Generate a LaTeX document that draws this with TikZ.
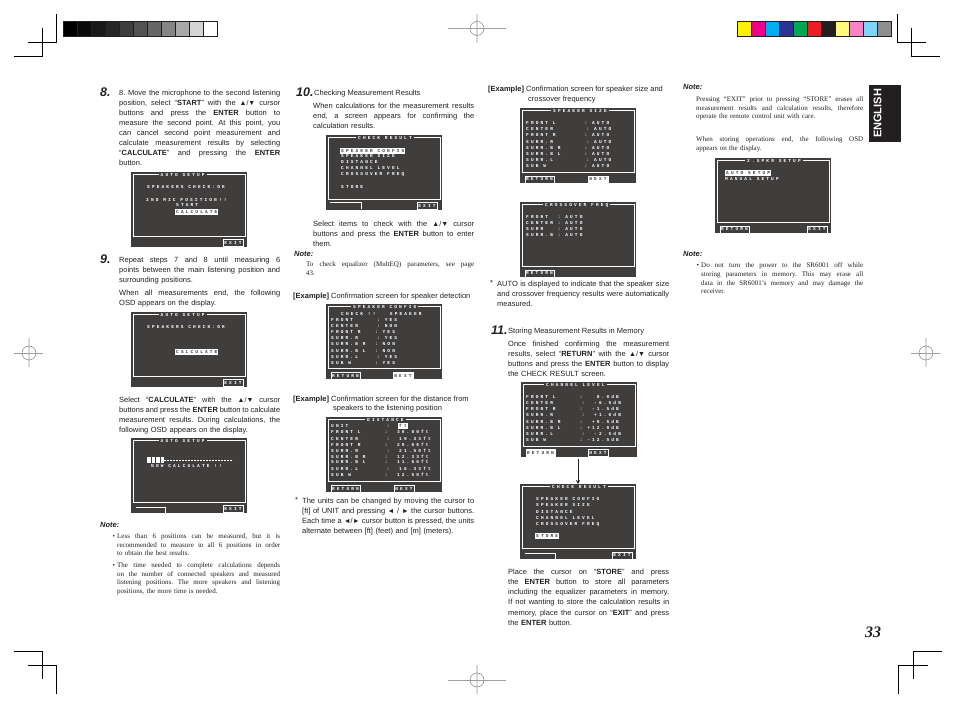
\documentclass[tikz,border=0pt]{standalone}
\usepackage{xcolor}
\usepackage{fontspec}
\usepackage{tikz}
\usetikzlibrary{arrows.meta, positioning}
\setmainfont{Liberation Sans}
\newfontfamily\notefont{Liberation Serif}
\newfontfamily\osdfont[LetterSpace=47]{Liberation Mono}
\definecolor{osdgray}{RGB}{64,61,61}
\definecolor{inkblack}{RGB}{35,31,32}
\definecolor{baryellow}{RGB}{255,242,0}
\definecolor{barmagenta}{RGB}{236,0,140}
\definecolor{barcyan}{RGB}{0,174,239}
\definecolor{barblue}{RGB}{46,49,146}
\definecolor{bargreen}{RGB}{0,166,81}
\definecolor{barred}{RGB}{237,28,36}
\definecolor{barpaleyellow}{RGB}{255,249,125}
\definecolor{barpink}{RGB}{247,132,197}
\definecolor{barsky}{RGB}{125,214,249}
\definecolor{bargray}{RGB}{143,141,142}
\newlength{\jlw}
\newcommand{\jl}[1]{\leavevmode\hbox to \jlw{\spaceskip=0pt\xspaceskip=0pt\relax #1}}
\newcommand{\updn}{{\fontsize{7}{7}\selectfont ▲/▼}}
\newcommand{\lfrt}{{\fontsize{7}{7}\selectfont ◄}}
\newcommand{\rtrt}{{\fontsize{7}{7}\selectfont ►}}
% screen: name, x, y, title, title x
\newcommand{\osdscreen}[5]{
    \node[osdbox] (#1) at (#2,#3) {};
    \draw[osdframe] ([xshift=2pt,yshift=-3pt]#1.north west) rectangle ([xshift=-2pt,yshift=-65pt]#1.north east);
    \node[osdtitle] (#1title) at (#5,#3+3) {#4};
}
\frenchspacing

\begin{document}
\begin{tikzpicture}[
    x=1pt, y=-1pt,
    osdbox/.style={anchor=north west, fill=osdgray, minimum width=116pt, minimum height=75pt, inner sep=0pt, outer sep=0pt},
    osdframe/.style={draw=white, line width=1pt},
    osdtext/.style={anchor=west, inner sep=0pt, text=white, text height=3pt, text depth=0pt, font=\osdfont\bfseries\fontsize{4.5}{5}\selectfont},
    osdtitle/.style={osdtext, fill=osdgray, inner xsep=2pt, inner ysep=1pt},
    osdsel/.style={osdtext, fill=white, text=osdgray, inner xsep=1pt, inner ysep=1.4pt},
    osdbtn/.style={osdtext, anchor=center, draw=white, line width=0.5pt, minimum width=20pt, minimum height=7pt},
    osdbtnsel/.style={osdbtn, fill=white, text=osdgray},
    bodytext/.style={anchor=north west, inner sep=0pt, align=left, text=inkblack, font=\fontsize{7.5}{10.1}\selectfont},
    bodypara/.style={bodytext, text width=#1, execute at begin node={\setlength{\jlw}{#1}}},
    notetext/.style={anchor=north west, inner sep=0pt, align=left, text=inkblack, font=\notefont\fontsize{7}{8.7}\selectfont},
    notepara/.style={notetext, text width=#1, execute at begin node={\setlength{\jlw}{#1}}},
    notehead/.style={anchor=west, inner sep=0pt, text=inkblack, font=\bfseries\itshape\fontsize{7.5}{8}\selectfont},
    stepnum/.style={anchor=west, inner sep=0pt, text=inkblack, font=\bfseries\itshape\fontsize{12.5}{13}\selectfont},
    swatch/.style={draw=inkblack, line width=0.7pt, minimum width=14pt, minimum height=15pt, inner sep=0pt, outer sep=0pt},
    cropline/.style={draw=black, line width=0.7pt},
    reghair/.style={draw=gray!75, line width=0.7pt},
    regvert/.style={draw=gray!30, line width=1.4pt},
    regring/.style={draw=gray, line width=0.5pt, circle, minimum size=14pt, inner sep=0pt}
]
    \useasboundingbox (0,0) rectangle (954,708);

    % Gray bar
    \node[swatch, fill=black] (gray1) at (70,28.5) {};
    \node[swatch, fill=black!96, right=0pt of gray1] (gray2) {};
    \node[swatch, fill=black!90, right=0pt of gray2] (gray3) {};
    \node[swatch, fill=black!85, right=0pt of gray3] (gray4) {};
    \node[swatch, fill=black!76, right=0pt of gray4] (gray5) {};
    \node[swatch, fill=black!68, right=0pt of gray5] (gray6) {};
    \node[swatch, fill=black!60, right=0pt of gray6] (gray7) {};
    \node[swatch, fill=black!48, right=0pt of gray7] (gray8) {};
    \node[swatch, fill=black!34, right=0pt of gray8] (gray9) {};
    \node[swatch, fill=black!17, right=0pt of gray9] (gray10) {};
    \node[swatch, fill=white, right=0pt of gray10] (gray11) {};

    % Colour bar
    \node[swatch, fill=baryellow] (col1) at (744,28.5) {};
    \node[swatch, fill=barmagenta, right=0pt of col1] (col2) {};
    \node[swatch, fill=barcyan, right=0pt of col2] (col3) {};
    \node[swatch, fill=barblue, right=0pt of col3] (col4) {};
    \node[swatch, fill=bargreen, right=0pt of col4] (col5) {};
    \node[swatch, fill=barred, right=0pt of col5] (col6) {};
    \node[swatch, fill=inkblack, right=0pt of col6] (col7) {};
    \node[swatch, fill=barpaleyellow, right=0pt of col7] (col8) {};
    \node[swatch, fill=barpink, right=0pt of col8] (col9) {};
    \node[swatch, fill=barsky, right=0pt of col9] (col10) {};
    \node[swatch, fill=bargray, right=0pt of col10] (col11) {};

    % Crop marks
    \draw[cropline] (56.5,14) -- (56.5,42.5) -- (28,42.5);
    \draw[cropline] (42.5,28) -- (42.5,56.5) -- (14,56.5);
    \draw[cropline] (897.3,14) -- (897.3,42.5) -- (926,42.5);
    \draw[cropline] (911.3,28) -- (911.3,56.5) -- (940,56.5);
    \draw[cropline] (13.5,651) -- (42.7,651) -- (42.7,679);
    \draw[cropline] (28,665) -- (56.7,665) -- (56.7,694);
    \draw[cropline] (942,651) -- (913.4,651) -- (913.4,679);
    \draw[cropline] (928,665) -- (898.8,665) -- (898.8,694);

    % Registration marks
    \draw[regvert] (477,14) -- (477,43);
    \draw[reghair] (448,28.5) -- (506,28.5);
    \node[regring] (regtop) at (477,28.5) {};
    \draw[regvert] (477,665) -- (477,694);
    \draw[reghair] (448,680) -- (506,680);
    \node[regring] (regbottom) at (477,680) {};
    \draw[regvert] (29,338) -- (29,367);
    \draw[reghair] (14,353) -- (43,353);
    \node[regring] (regleft) at (29,353) {};
    \draw[regvert] (926,338) -- (926,367);
    \draw[reghair] (911,353) -- (940,353);
    \node[regring] (regright) at (926,353) {};

    % Language tab and page number
    \node[anchor=north west, fill=inkblack, minimum width=32pt, minimum height=57pt, inner sep=0pt] (englishtab) at (868.5,85) {};
    \node[rotate=90, text=white, inner sep=0pt, font=\bfseries\fontsize{11}{11}\selectfont] (english) at (877.5,113.5) {ENGLISH};
    \node[inner sep=0pt, text=inkblack, font=\notefont\bfseries\itshape\fontsize{16}{16}\selectfont] (pagenum) at (873,632) {33};

    % Column 1
    \node[stepnum] (step8) at (100,92) {8.};
    \node[bodypara=161pt] (text8) at (119,89.5) {\jl{8. Move the microphone to the second listening}\\
        \jl{position, select “\textbf{START}” with the \updn{} cursor}\\
        \jl{buttons and press the \textbf{ENTER} button to}\\
        \jl{measure the second point. At this point, you}\\
        \jl{can cancel second point measurement and}\\
        \jl{calculate measurement results by selecting}\\
        \jl{“\textbf{CALCULATE}” and pressing the \textbf{ENTER}}\\
        button.};

    \osdscreen{micpos}{131}{172}{AUTO SETUP}{158.5}
    \node[osdtext] (micposa) at (147,187) {SPEAKERS CHECK:OK};
    \node[osdtext] (micposb) at (146,200) {2ND MIC POSITION!!};
    \node[osdtext] (micposc) at (176,205) {START};
    \node[osdsel] (micposd) at (175,212) {CALCULATE};
    \node[osdbtn] (micposexit) at (233,243) {EXIT};

    \node[stepnum] (step9) at (100,259) {9.};
    \node[bodypara=161pt] (text9a) at (119,256.5) {\jl{Repeat steps 7 and 8 until measuring 6}\\
        \jl{points between the main listening position and}\\
        surrounding positions.};
    \node[bodypara=161pt] (text9b) at (119,289.5) {\jl{When all measurements end, the following}\\
        OSD appears on the display.};

    \osdscreen{allpos}{131}{312}{AUTO SETUP}{158.5}
    \node[osdtext] (allposa) at (147,327) {SPEAKERS CHECK:OK};
    \node[osdsel] (allposb) at (175,352) {CALCULATE};
    \node[osdbtn] (allposexit) at (233,383) {EXIT};

    \node[bodypara=161pt] (text9c) at (119,396.5) {\jl{Select “\textbf{CALCULATE}” with the \updn{} cursor}\\
        \jl{buttons and press the \textbf{ENTER} button to calculate}\\
        \jl{measurement results. During calculations, the}\\
        following OSD appears on the display.};

    \osdscreen{nowcalc}{131}{438}{AUTO SETUP}{158.5}
    \fill[white] (147,457) rectangle (150.5,463);
    \fill[white] (151.5,457) rectangle (155,463);
    \fill[white] (156,457) rectangle (159.5,463);
    \fill[white] (160.5,457) rectangle (164,463);
    \draw[white, line width=0.4pt, dash pattern=on 2pt off 1pt] (164,460) -- (233,460);
    \node[osdtext] (nowcalca) at (151,466) {NOW CALCULATE !!};
    \draw[white, line width=0.4pt] (136,507) -| (165,513);
    \node[osdbtn] (nowcalcexit) at (233,509) {EXIT};

    \node[notehead] (note1) at (100,525) {Note:};
    \node[notetext] (note1bulla) at (112.5,535) {•};
    \node[notepara=163pt] (note1a) at (117,533.5) {\jl{Less than 6 positions can be measured, but it is}\\
        \jl{recommended to measure in all 6 positions in order}\\
        to obtain the best results.};
    \node[notetext] (note1bullb) at (112.5,564) {•};
    \node[notepara=163pt] (note1b) at (117,562.5) {\jl{The time needed to complete calculations depends}\\
        \jl{on the number of connected speakers and measured}\\
        \jl{listening positions. The more speakers and listening}\\
        positions, the more time is needed.};

    % Column 2
    \node[stepnum] (step10) at (296,92) {10.};
    \node[bodytext] (head10) at (314,89.5) {Checking Measurement Results};
    \node[bodypara=161pt] (text10a) at (313,102.5) {\jl{When calculations for the measurement results}\\
        \jl{end, a screen appears for confirming the}\\
        calculation results.};

    \osdscreen{result}{326}{135}{CHECK RESULT}{356}
    \node[osdsel] (resulta) at (340,151) {SPEAKER CONFIG};
    \node[osdtext] (resultb) at (341,156.5) {SPEAKER SIZE};
    \node[osdtext] (resultc) at (341,162.5) {DISTANCE};
    \node[osdtext] (resultd) at (341,168.5) {CHANNEL LEVEL};
    \node[osdtext] (resulte) at (341,174.5) {CROSSOVER FREQ};
    \node[osdtext] (resultf) at (341,187) {STORE};
    \draw[white, line width=0.4pt] (330,202) -| (361,209);
    \node[osdbtn] (resultexit) at (427,206) {EXIT};

    \node[bodypara=161pt] (text10b) at (313,220.5) {\jl{Select items to check with the \updn{} cursor}\\
        \jl{buttons and press the \textbf{ENTER} button to enter}\\
        them.};
    \node[notehead] (note2) at (294,254) {Note:};
    \node[notepara=168pt] (note2a) at (306,261.5) {\jl{To check equalizer (MultEQ) parameters, see page}\\
        43.};
    \node[bodytext] (example1) at (293,292.5) {\textbf{[Example]} Confirmation screen for speaker detection};

    \osdscreen{config}{326}{304}{SPEAKER CONFIG}{351}
    \node[osdtext] (configa) at (341,314) {CHECK !!~~~SPEAKER};
    \node[osdtext] (configb) at (331,320) {FRONT~~~~~:~YES};
    \node[osdtext] (configc) at (331,326) {CENTER~~~~:~NON};
    \node[osdtext] (configd) at (331,332) {FRONT~R~~~:~YES};
    \node[osdtext] (confige) at (331,338) {SURR.R~~~~:~YES};
    \node[osdtext] (configf) at (331,344) {SURR.B~R~~:~NON};
    \node[osdtext] (configg) at (331,351) {SURR.B~L~~:~NON};
    \node[osdtext] (configh) at (331,357) {SURR.L~~~~:~YES};
    \node[osdtext] (configi) at (331,363) {SUB~W~~~~~:~YES};
    \node[osdbtn, minimum width=29pt] (configreturn) at (345.5,376) {RETURN};
    \node[osdbtnsel] (confignext) at (403,376) {NEXT};

    \node[bodytext] (example2) at (293,395.5) {\textbf{[Example]} Confirmation screen for the distance from};
    \node[bodytext] (example2b) at (333,404.5) {speakers to the listening position};

    \osdscreen{distance}{326}{417}{DISTANCE}{365}
    \node[osdtext] (distancea) at (331,426) {UNIT~~~~~~~~:};
    \node[osdsel] (distunit) at (398,426) {ft};
    \node[osdtext] (distanceb) at (331,432) {FRONT~L~~~~~:~~30.00ft};
    \node[osdtext] (distancec) at (331,439) {CENTER~~~~~~:~~19.33ft};
    \node[osdtext] (distanced) at (331,445) {FRONT~R~~~~~:~~29.66ft};
    \node[osdtext] (distancee) at (331,451) {SURR.R~~~~~~:~~21.50ft};
    \node[osdtext] (distancef) at (331,457) {SURR.B~R~~~~:~~12.33ft};
    \node[osdtext] (distanceg) at (331,462.5) {SURR.B~L~~~~:~~11.66ft};
    \node[osdtext] (distanceh) at (331,469) {SURR.L~~~~~~:~~16.33ft};
    \node[osdtext] (distancei) at (331,475) {SUB~W~~~~~~~:~~12.50ft};
    \node[osdbtn, minimum width=29pt] (distreturn) at (345.5,489) {RETURN};
    \node[osdbtn] (distnext) at (404,489) {NEXT};

    \node[bodytext] (star1) at (295,497.5) {*};
    \node[bodypara=172pt] (star1a) at (302,497.5) {\jl{The units can be changed by moving the cursor to}\\
        \jl{[ft] of UNIT and pressing \lfrt{} / \rtrt{} the cursor buttons.}\\
        \jl{Each time a \lfrt{}/\rtrt{} cursor button is pressed, the units}\\
        alternate between [ft] (feet) and [m] (meters).};

    % Column 3
    \node[bodytext] (example3) at (488,85.5) {\textbf{[Example]} Confirmation screen for speaker size and};
    \node[bodytext] (example3b) at (528,95.5) {crossover frequency};

    \osdscreen{size}{520}{108}{SPEAKER SIZE}{551}
    \node[osdtext] (sizea) at (526,123) {FRONT~L~~~~~~:~AUTO};
    \node[osdtext] (sizeb) at (526,129) {CENTER~~~~~~~:~AUTO};
    \node[osdtext] (sizec) at (526,135) {FRONT~R~~~~~~:~AUTO};
    \node[osdtext] (sized) at (526,142) {SURR.R~~~~~~~:~AUTO};
    \node[osdtext] (sizee) at (526,148) {SURR.B~R~~~~~:~AUTO};
    \node[osdtext] (sizef) at (526,154) {SURR.B~L~~~~~:~AUTO};
    \node[osdtext] (sizeg) at (526,160) {SURR.L~~~~~~~:~AUTO};
    \node[osdtext] (sizeh) at (526,166) {SUB~W~~~~~~~~:~AUTO};
    \node[osdbtn, minimum width=29pt] (sizereturn) at (539.5,179.5) {RETURN};
    \node[osdbtnsel] (sizenext) at (598,179.5) {NEXT};

    \osdscreen{xover}{520}{202}{CROSSOVER FREQ}{543}
    \node[osdtext] (xovera) at (526,217) {FRONT~~:~AUTO};
    \node[osdtext] (xoverb) at (526,223) {CENTER~:~AUTO};
    \node[osdtext] (xoverc) at (526,229) {SURR~~~:~AUTO};
    \node[osdtext] (xoverd) at (526,235) {SURR.B~:~AUTO};
    \node[osdbtn, minimum width=29pt] (xoverreturn) at (539.5,273.5) {RETURN};

    \node[bodytext] (star2) at (490,280.5) {*};
    \node[bodypara=172pt] (star2a) at (497,280.5) {\jl{AUTO is displayed to indicate that the speaker size}\\
        \jl{and crossover frequency results were automatically}\\
        measured.};

    \node[stepnum] (step11) at (491,330) {11.};
    \node[bodytext] (head11) at (508,327.5) {Storing Measurement Results in Memory};
    \node[bodypara=161pt] (text11a) at (508,340.5) {\jl{Once finished confirming the measurement}\\
        \jl{results, select “\textbf{RETURN}” with the \updn{} cursor}\\
        \jl{buttons and press the \textbf{ENTER} button to display}\\
        the CHECK RESULT screen.};

    \osdscreen{level}{521}{382}{CHANNEL LEVEL}{544}
    \node[osdtext] (levela) at (526,397) {FRONT~L~~~~~:~~~0.0dB};
    \node[osdtext] (levelb) at (526,403) {CENTER~~~~~~:~~-6.5dB};
    \node[osdtext] (levelc) at (526,409) {FRONT~R~~~~~:~~-1.5dB};
    \node[osdtext] (leveld) at (526,415) {SURR.R~~~~~~:~~+1.0dB};
    \node[osdtext] (levele) at (526,422) {SURR.B~R~~~~:~~+9.5dB};
    \node[osdtext] (levelf) at (526,428) {SURR.B~L~~~~:~+12.0dB};
    \node[osdtext] (levelg) at (526,434) {SURR.L~~~~~~:~~-2.5dB};
    \node[osdtext] (levelh) at (526,440) {SUB~W~~~~~~~:~-12.5dB};
    \node[osdbtnsel, minimum width=29pt] (levelreturn) at (540.5,453) {RETURN};
    \node[osdbtn] (levelnext) at (598,453) {NEXT};

    \osdscreen{store}{520}{484}{CHECK RESULT}{550}
    \node[osdtext] (storea) at (536,499) {SPEAKER CONFIG};
    \node[osdtext] (storeb) at (536,505.5) {SPEAKER SIZE};
    \node[osdtext] (storec) at (536,512) {DISTANCE};
    \node[osdtext] (stored) at (536,518) {CHANNEL LEVEL};
    \node[osdtext] (storee) at (536,524) {CROSSOVER FREQ};
    \node[osdsel] (storef) at (535,536) {STORE};
    \draw[white, line width=0.4pt] (525,553) -| (555,559);
    \node[osdbtn] (storeexit) at (622,555.5) {EXIT};

    \draw[-{Stealth[length=4pt,width=4pt]}, line width=0.8pt, inkblack, shorten <=2pt] ([xshift=-1pt]level.south) -- (store.north);

    \node[bodypara=161pt] (text11b) at (508,569) {\jl{Place the cursor on “\textbf{STORE}” and press}\\
        \jl{the \textbf{ENTER} button to store all parameters}\\
        \jl{including the equalizer parameters in memory.}\\
        \jl{If not wanting to store the calculation results in}\\
        \jl{memory, place the cursor on “\textbf{EXIT}” and press}\\
        the \textbf{ENTER} button.};

    % Column 4
    \node[notehead] (note3) at (683,87) {Note:};
    \node[notepara=167pt] (note3a) at (696,96.5) {\jl{Pressing “EXIT” prior to pressing “STORE” erases all}\\
        \jl{measurement results and calculation results, therefore}\\
        operate the remote control unit with care.};
    \node[notepara=167pt] (note3b) at (696,136.5) {\jl{When storing operations end, the following OSD}\\
        appears on the display.};

    \osdscreen{spkr}{715}{158}{2.SPKR SETUP}{745}
    \node[osdsel] (spkra) at (725,173) {AUTO SETUP};
    \node[osdtext] (spkrb) at (725,179) {MANUAL SETUP};
    \node[osdbtn, minimum width=29pt] (spkrreturn) at (734.5,229.5) {RETURN};
    \node[osdbtn] (spkrexit) at (817,229.5) {EXIT};

    \node[notehead] (note4) at (683,254) {Note:};
    \node[notetext] (note4bull) at (696.5,264) {•};
    \node[notepara=162pt] (note4a) at (701,262.5) {\jl{Do not turn the power to the SR6001 off while}\\
        \jl{storing parameters in memory. This may erase all}\\
        \jl{data in the SR6001’s memory and may damage the}\\
        receiver.};
\end{tikzpicture}
\end{document}
